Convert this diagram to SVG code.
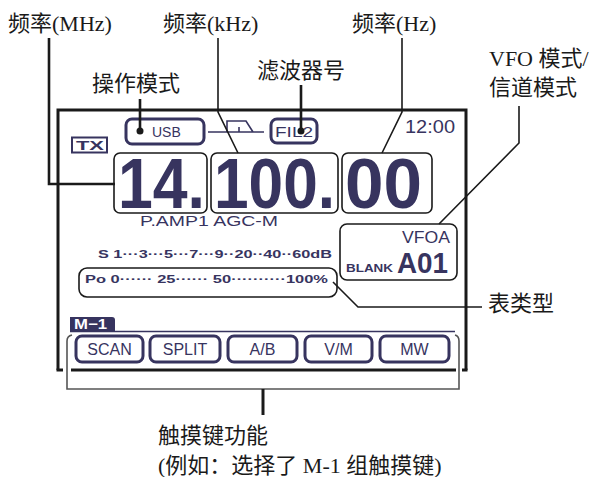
<svg xmlns="http://www.w3.org/2000/svg" width="592" height="477" viewBox="0 0 592 477">
<style>
.lbl{font-family:"Liberation Serif","Noto Sans CJK SC",serif;font-size:22px;fill:#1a1a1a}
.nv{font-family:"Liberation Sans","DejaVu Sans",sans-serif;fill:#37345f}
.b{font-weight:bold}
.key{fill:#fff;stroke:#37345f;stroke-width:3}
.fbox{fill:none;stroke:#1a1a1a;stroke-width:1.6}
.lead{fill:none;stroke:#1a1a1a;stroke-width:1.6}
.leadt{fill:none;stroke:#1a1a1a;stroke-width:2.6}
.dig{font-family:"Liberation Sans","DejaVu Sans",sans-serif;font-weight:bold;font-size:71px;fill:#37345f}
</style>
<rect width="592" height="477" fill="#fff"/>

<g id="screen-frame">
<path d="M58,370 V110 H466 V370" fill="none" stroke="#1a1a1a" stroke-width="3"/>
<path d="M56.5,370 H63 M71,370 H456 M462,370 H467.5" fill="none" stroke="#1a1a1a" stroke-width="3"/>
</g>

<g id="tx">
<rect x="72" y="137.5" width="35" height="15" fill="none" stroke="#37345f" stroke-width="2"/>
<text class="nv b" x="76" y="150" font-size="13" textLength="28" lengthAdjust="spacingAndGlyphs">TX</text>
</g>

<g id="mode-usb">
<rect x="126" y="119" width="78" height="25" rx="6" class="key"/>
<text class="nv" x="152" y="137" font-size="14">USB</text>
</g>

<g id="filter-symbol">
<path d="M208,132 H264 M227,132 V121 H246 L253,132 M239,127 V132" fill="none" stroke="#37345f" stroke-width="1.6"/>
</g>

<g id="fil2">
<rect x="271" y="119" width="46" height="24" rx="6" class="key"/>
<text class="nv" x="275" y="137" font-size="14" textLength="38" lengthAdjust="spacingAndGlyphs">FIL2</text>
</g>

<g id="clock">
<text class="nv" x="405" y="133" font-size="18" textLength="50" lengthAdjust="spacingAndGlyphs">12:00</text>
</g>

<g id="freq-mhz">
<rect x="114" y="153" width="93" height="60" rx="6" class="fbox"/>
<text class="dig" x="118" y="208" textLength="87" lengthAdjust="spacingAndGlyphs">14.</text>
</g>
<g id="freq-khz">
<rect x="211" y="153" width="127" height="60" rx="6" class="fbox"/>
<text class="dig" x="214" y="208" textLength="121" lengthAdjust="spacingAndGlyphs">100.</text>
</g>
<g id="freq-hz">
<rect x="342" y="153" width="90" height="60" rx="6" class="fbox"/>
<text class="dig" x="345" y="208" textLength="77" lengthAdjust="spacingAndGlyphs">00</text>
</g>

<g id="status">
<text class="nv" x="140" y="226" font-size="15" textLength="138" lengthAdjust="spacingAndGlyphs">P.AMP1 AGC-M</text>
</g>

<g id="vfo-box">
<rect x="340" y="224" width="117" height="56" rx="7" class="fbox"/>
<text class="nv" x="402" y="243" font-size="16" textLength="48" lengthAdjust="spacingAndGlyphs">VFOA</text>
<text class="nv b" x="346" y="272" font-size="11" textLength="47" lengthAdjust="spacingAndGlyphs">BLANK</text>
<text class="nv b" x="397" y="273" font-size="30" textLength="51" lengthAdjust="spacingAndGlyphs">A01</text>
</g>

<g id="s-scale">
<text class="nv b" x="98" y="258" font-size="10" textLength="234" lengthAdjust="spacingAndGlyphs">S  1···3···5···7···9··20··40··60dB</text>
</g>

<g id="meter">
<rect x="79" y="268" width="258" height="29" rx="8" class="fbox"/>
<text class="nv b" x="85" y="283" font-size="11" textLength="243" lengthAdjust="spacingAndGlyphs">Po 0······ 25······ 50··········100%</text>
</g>

<g id="m1-tab">
<path d="M70,332 V317 H112 Q115,317 115,320 V332 Z" fill="#37345f"/>
<line x1="70" y1="331.5" x2="455" y2="331.5" stroke="#37345f" stroke-width="1.5"/>
<text x="74" y="329" font-family="Liberation Sans,sans-serif" font-weight="bold" font-size="14" fill="#fff" textLength="33" lengthAdjust="spacingAndGlyphs">M−1</text>
</g>

<g id="keys">
<g id="key-scan"><rect x="76" y="336" width="67" height="26" rx="6" class="key"/><text class="nv" x="109.5" y="355" font-size="16" text-anchor="middle">SCAN</text></g>
<g id="key-split"><rect x="150" y="336" width="70" height="26" rx="6" class="key"/><text class="nv" x="185" y="355" font-size="16" text-anchor="middle">SPLIT</text></g>
<g id="key-ab"><rect x="228" y="336" width="69" height="26" rx="6" class="key"/><text class="nv" x="262.5" y="355" font-size="16" text-anchor="middle">A/B</text></g>
<g id="key-vm"><rect x="305" y="336" width="67" height="26" rx="6" class="key"/><text class="nv" x="338.5" y="355" font-size="16" text-anchor="middle">V/M</text></g>
<g id="key-mw"><rect x="380" y="336" width="69" height="26" rx="6" class="key"/><text class="nv" x="414.5" y="355" font-size="16" text-anchor="middle">MW</text></g>
</g>

<g id="connectors">
<path class="leadt" d="M49,38 V184 H115"/>
<path class="lead" d="M218,38 V112 L238,153" stroke-width="2"/>
<path class="lead" d="M402,38 V112 L382,153" stroke-width="2"/>
<path class="leadt" d="M140,99 V131" stroke-width="3"/>
<circle cx="140" cy="131" r="3.5" fill="#1a1a1a"/>
<path class="leadt" d="M301,85 V131" stroke-width="3"/>
<circle cx="301" cy="131" r="3.5" fill="#1a1a1a"/>
<path class="lead" d="M519,106 V143 L439,224"/>
<path class="lead" d="M333,282 L358,307 H482"/>
<path d="M72,335 Q67,336 67,341 V389 H459 V341 Q459,336 455,335" fill="none" stroke="#555" stroke-width="1.6"/>
<path d="M263,389 V415" stroke="#1a1a1a" stroke-width="3"/>
</g>

<g id="labels">
<text class="lbl" x="8" y="31">频率(MHz)</text>
<text class="lbl" x="163" y="31">频率(kHz)</text>
<text class="lbl" x="352" y="31">频率(Hz)</text>
<text class="lbl" x="92" y="91">操作模式</text>
<text class="lbl" x="257" y="78">滤波器号</text>
<text class="lbl" x="489" y="66">VFO 模式/</text>
<text class="lbl" x="489" y="95">信道模式</text>
<text class="lbl" x="488" y="311">表类型</text>
<text class="lbl" x="158" y="443">触摸键功能</text>
<text class="lbl" x="158" y="473">(例如：选择了 M-1 组触摸键)</text>
</g>
</svg>
